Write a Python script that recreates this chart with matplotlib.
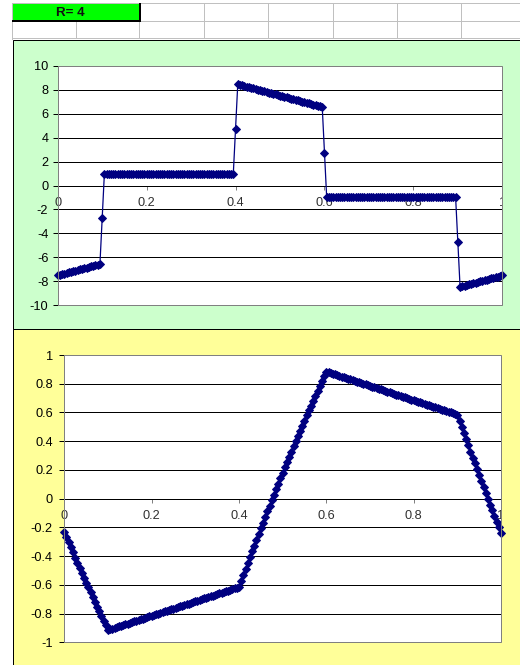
import numpy as np
import matplotlib
matplotlib.use("Agg")
import matplotlib.pyplot as plt
from matplotlib.patches import Rectangle

plt.rcParams['font.family'] = ['Liberation Sans', 'DejaVu Sans']

# muestreo en x con paso 0.005 (201 puntos)
x = np.arange(201) * 0.005

# derivada (grafico superior)
deriv = [
    -7.50, -7.45, -7.40, -7.35, -7.30, -7.25, -7.20, -7.15, -7.10, -7.05,
    -7.00, -6.95, -6.90, -6.85, -6.80, -6.75, -6.70, -6.65, -6.60, -6.55,
    -2.75,
    1.00, 1.00, 1.00, 1.00, 1.00, 1.00, 1.00, 1.00, 1.00, 1.00,
    1.00, 1.00, 1.00, 1.00, 1.00, 1.00, 1.00, 1.00, 1.00, 1.00,
    1.00, 1.00, 1.00, 1.00, 1.00, 1.00, 1.00, 1.00, 1.00, 1.00,
    1.00, 1.00, 1.00, 1.00, 1.00, 1.00, 1.00, 1.00, 1.00, 1.00,
    1.00, 1.00, 1.00, 1.00, 1.00, 1.00, 1.00, 1.00, 1.00, 1.00,
    1.00, 1.00, 1.00, 1.00, 1.00, 1.00, 1.00, 1.00, 1.00,
    4.75,
    8.45, 8.40, 8.35, 8.30, 8.25, 8.20, 8.15, 8.10, 8.05, 8.00,
    7.95, 7.90, 7.85, 7.80, 7.75, 7.70, 7.65, 7.60, 7.55, 7.50,
    7.45, 7.40, 7.35, 7.30, 7.25, 7.20, 7.15, 7.10, 7.05, 7.00,
    6.95, 6.90, 6.85, 6.80, 6.75, 6.70, 6.65, 6.60, 6.55,
    2.75,
    -1.00, -1.00, -1.00, -1.00, -1.00, -1.00, -1.00, -1.00, -1.00, -1.00,
    -1.00, -1.00, -1.00, -1.00, -1.00, -1.00, -1.00, -1.00, -1.00, -1.00,
    -1.00, -1.00, -1.00, -1.00, -1.00, -1.00, -1.00, -1.00, -1.00, -1.00,
    -1.00, -1.00, -1.00, -1.00, -1.00, -1.00, -1.00, -1.00, -1.00, -1.00,
    -1.00, -1.00, -1.00, -1.00, -1.00, -1.00, -1.00, -1.00, -1.00, -1.00,
    -1.00, -1.00, -1.00, -1.00, -1.00, -1.00, -1.00, -1.00, -1.00,
    -4.75,
    -8.45, -8.40, -8.35, -8.30, -8.25, -8.20, -8.15, -8.10, -8.05, -8.00,
    -7.95, -7.90, -7.85, -7.80, -7.75, -7.70, -7.65, -7.60, -7.55, -7.50,
]

# funcion (grafico inferior)
func = [
    -0.230, -0.266, -0.303, -0.338, -0.374, -0.410, -0.445, -0.480, -0.515, -0.549,
    -0.584, -0.618, -0.652, -0.685, -0.719, -0.752, -0.785, -0.818, -0.851, -0.883,
    -0.915,
    -0.910, -0.905, -0.900, -0.895, -0.890, -0.885, -0.880, -0.875, -0.870, -0.865,
    -0.860, -0.855, -0.850, -0.845, -0.840, -0.835, -0.830, -0.825, -0.820, -0.815,
    -0.810, -0.805, -0.800, -0.795, -0.790, -0.785, -0.780, -0.775, -0.770, -0.765,
    -0.760, -0.755, -0.750, -0.745, -0.740, -0.735, -0.730, -0.725, -0.720, -0.715,
    -0.710, -0.705, -0.700, -0.695, -0.690, -0.685, -0.680, -0.675, -0.670, -0.665,
    -0.660, -0.655, -0.650, -0.645, -0.640, -0.635, -0.630, -0.625, -0.620,
    -0.615, -0.573, -0.531, -0.490, -0.449, -0.408, -0.367, -0.327, -0.286, -0.246,
    -0.206, -0.167, -0.127, -0.088, -0.049, -0.010, 0.028, 0.066, 0.105, 0.142,
    0.180, 0.217, 0.255, 0.291, 0.328, 0.365, 0.401, 0.437, 0.473, 0.508,
    0.544, 0.579, 0.614, 0.648, 0.683, 0.717, 0.751, 0.785, 0.819, 0.852,
    0.885,
    0.880, 0.875, 0.870, 0.865, 0.860, 0.855, 0.850, 0.845, 0.840, 0.835,
    0.830, 0.825, 0.820, 0.815, 0.810, 0.805, 0.800, 0.795, 0.790, 0.785,
    0.780, 0.775, 0.770, 0.765, 0.760, 0.755, 0.750, 0.745, 0.740, 0.735,
    0.730, 0.725, 0.720, 0.715, 0.710, 0.705, 0.700, 0.695, 0.690, 0.685,
    0.680, 0.675, 0.670, 0.665, 0.660, 0.655, 0.650, 0.645, 0.640, 0.635,
    0.630, 0.625, 0.620, 0.615, 0.610, 0.605, 0.600, 0.595, 0.590,
    0.585, 0.542, 0.498, 0.456, 0.413, 0.370, 0.328, 0.286, 0.245, 0.203,
    0.162, 0.121, 0.080, 0.039, -0.001, -0.041, -0.081, -0.121, -0.160, -0.199,
    -0.238,
]

xticks = [0, 0.2, 0.4, 0.6, 0.8, 1]
xtick_labels = ['0', '0.2', '0.4', '0.6', '0.8', '1']
top_yticks = [-10, -8, -6, -4, -2, 0, 2, 4, 6, 8, 10]
top_ylabels = ['-10', '-8', '-6', '-4', '-2', '0', '2', '4', '6', '8', '10']
bot_yticks = [-1, -0.8, -0.6, -0.4, -0.2, 0, 0.2, 0.4, 0.6, 0.8, 1]
bot_ylabels = ['-1', '-0.8', '-0.6', '-0.4', '-0.2', '0', '0.2', '0.4', '0.6', '0.8', '1']
header_text = 'R= 4'

W, H = 520, 665
PX = 72 / 100  # 1 pixel en puntos
NAVY = '#000080'

fig = plt.figure(figsize=(W / 100, H / 100), dpi=100)
fig.patch.set_facecolor('white')

# fondo tipo hoja de calculo, en coordenadas de pixel
bg = fig.add_axes([0, 0, 1, 1])
bg.set_xlim(0, W)
bg.set_ylim(H, 0)
bg.axis('off')

grey = '#c0c0c0'
bg.plot([12, W], [3, 3], color=grey, lw=PX)
bg.plot([139, W], [21, 21], color=grey, lw=PX)
bg.plot([12, W], [38, 38], color=grey, lw=PX)
bg.plot([12, 12], [3, 39], color=grey, lw=PX)
bg.plot([76, 76], [21, 38], color=grey, lw=PX)
bg.plot([139, 139], [21, 38], color=grey, lw=PX)
for cx in [204, 268, 333, 397, 461]:
    bg.plot([cx, cx], [3, 38], color=grey, lw=PX)

bg.add_patch(Rectangle((12, 3), 127, 18, facecolor='#00ff00', edgecolor='none'))
bg.plot([12, 140.5], [20.5, 20.5], color='black', lw=2 * PX, solid_capstyle='butt')
bg.plot([139.5, 139.5], [3, 21.5], color='black', lw=2 * PX, solid_capstyle='butt')
bg.text(70.5, 12.5, header_text, ha='center', va='center', fontsize=9.6,
        fontweight='bold', color='#101010')

bg.add_patch(Rectangle((12.5, 39.5), W, 289, facecolor='#ccffcc',
                       edgecolor='black', lw=PX))
bg.add_patch(Rectangle((12.5, 328.5), W, 340, facecolor='#ffff99',
                       edgecolor='black', lw=PX))


def style(ax, yticks, ylabels, ypad):
    ax.set_xlim(0, 1)
    ax.set_ylim(yticks[0], yticks[-1])
    ax.set_xticks(xticks)
    ax.set_xticklabels(xtick_labels)
    ax.set_yticks(yticks)
    ax.set_yticklabels(ylabels)
    ax.hlines(yticks[1:-1], 0, 1, colors='black', lw=PX, zorder=0.5)
    ax.spines['top'].set_visible(False)
    ax.spines['right'].set_visible(False)
    ax.spines['bottom'].set_position(('data', 0))
    ax.spines['bottom'].set_color('black')
    ax.spines['bottom'].set_linewidth(PX)
    ax.spines['left'].set_color('#808080')
    ax.spines['left'].set_linewidth(PX)
    ax.tick_params(axis='x', direction='out', length=3, width=PX,
                   color='#808080', pad=5.5, labelsize=9.2, labelcolor='#303030')
    ax.tick_params(axis='y', direction='out', length=3.3, width=PX,
                   color='black', pad=ypad, labelsize=9.2, labelcolor='black')
    ax.add_patch(Rectangle((0, 0), 1, 1, transform=ax.transAxes, fill=False,
                           edgecolor='#808080', lw=PX, clip_on=False, zorder=5))
    # la etiqueta "1" queda cortada por el borde del area de trazado
    last = ax.get_xticklabels()[-1]
    last.set_clip_box(ax.bbox)
    last.set_clip_on(True)


ax1 = fig.add_axes([57.7 / W, 1 - 305.3 / H, 444.6 / W, 239.6 / H])
ax1.plot(x, deriv, color=NAVY, lw=0.9, marker='D', markersize=3.6,
         mfc=NAVY, mec=NAVY, mew=0.7, clip_on=False, zorder=3)
style(ax1, top_yticks, top_ylabels, 3.5)

ax2 = fig.add_axes([64.3 / W, 1 - 642.3 / H, 436.7 / W, 287.3 / H])
ax2.plot(x, func, color=NAVY, lw=0.9, marker='D', markersize=3.6,
         mfc=NAVY, mec=NAVY, mew=0.7, clip_on=False, zorder=3)
style(ax2, bot_yticks, bot_ylabels, 5)

fig.savefig('out.png', dpi=100)
